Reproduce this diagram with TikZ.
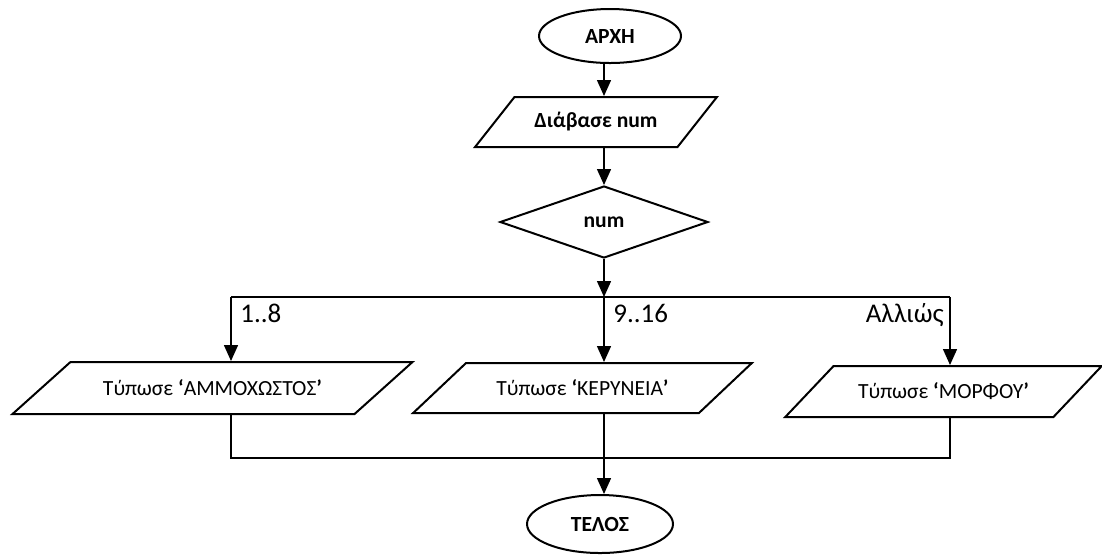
\documentclass[tikz,border=0pt]{standalone}
\usepackage{fontspec}
\setmainfont{Carlito}
\usetikzlibrary{shapes.geometric,arrows.meta,positioning}

\begin{document}
\begin{tikzpicture}
[x=0.5pt, y=-0.5pt, font=\fontsize{10.8}{13}\selectfont,
% STYLES
% The terminal style is used for the start and the end of the algorithm
terminal/.style={ellipse, draw, line width=1pt, inner sep=0pt, minimum width=71pt, minimum height=27pt, font=\bfseries\fontsize{10.8}{13}\selectfont},
% The io style is used to draw input and output
io/.style={trapezium, draw, line width=1pt, trapezium stretches=true, inner sep=2pt},
% The decision style is used for the test of num
decision/.style={diamond, draw, line width=1pt, inner sep=0pt, minimum width=104pt, minimum height=36pt, font=\bfseries\fontsize{10.8}{13}\selectfont},
flow/.style={-{Triangle[width=7pt,length=8pt]}, line width=0.75pt},
link/.style={line width=0.75pt},
case/.style={inner sep=0pt, font=\fontsize{13.5}{16}\selectfont}]

\useasboundingbox (0,0) rectangle (1102,554);

% Draw blocks
\node [terminal] (start) at (610,36) {ΑΡΧΗ};
\node [io, font=\bfseries\fontsize{10.8}{13}\selectfont, minimum width=122pt, minimum height=25pt,
  trapezium left angle=40.3, trapezium right angle=139.7] (read) at (596,122) {Διάβασε num};
\node [decision] (num) at (604,222) {num};

% the three cases
\coordinate (split) at (604,297);
\coordinate (busL) at (231,297);
\coordinate (busR) at (950,297);
\node [io, minimum width=200.5pt, minimum height=26pt,
  trapezium left angle=27.5, trapezium right angle=152.5] (famagusta) at (212.5,388) {Τύπωσε {\bfseries‘}ΑΜΜΟΧΩΣΤΟΣ{\bfseries’}};
\node [io, minimum width=169.5pt, minimum height=25pt,
  trapezium left angle=30.5, trapezium right angle=149.5] (kyrenia) at (582.5,388) {Τύπωσε {\bfseries‘}ΚΕΡΥΝΕΙΑ{\bfseries’}};
\node [io, minimum width=158.5pt, minimum height=25.5pt,
  trapezium left angle=32.5, trapezium right angle=147.5] (morphou) at (943.5,391.5) {Τύπωσε {\bfseries‘}ΜΟΡΦΟΥ{\bfseries’}};

% CASE LABELS
\node [case, anchor=base west] (case1) at ([xshift=4.5pt,yshift=-12.5pt]busL) {1..8};
\node [case, anchor=base west] (case2) at ([xshift=4.5pt,yshift=-12.5pt]split) {9..16};
\node [case, anchor=base east] (case3) at ([xshift=-3pt,yshift=-12.5pt]busR) {Αλλιώς};

% END
\coordinate (joinL) at (231,458);
\coordinate (joinR) at (950,458);
\coordinate (merge) at (604,458);
\node [terminal, minimum width=73pt, minimum height=29pt] (stop) at (600,524) {ΤΕΛΟΣ};

% Draw the links between blocks
\draw [flow] (start.south -| num) -- (read.north -| num);
\draw [flow] (read.south -| num) -- (num.north);
\draw [flow] (num.south) -- (split);
\draw [link] (busL) -- (busR);
\draw [flow] (busL) -- (busL |- famagusta.north);
\draw [flow] (split) -- (split |- kyrenia.north);
\draw [flow] (busR) -- (busR |- morphou.north);
\draw [link] (famagusta.south -| joinL) -- (joinL) -- (joinR) -- (morphou.south -| joinR);
\draw [link] (kyrenia.south -| merge) -- (merge);
\draw [flow] (merge) -- (stop.north -| merge);

\end{tikzpicture}
\end{document}
